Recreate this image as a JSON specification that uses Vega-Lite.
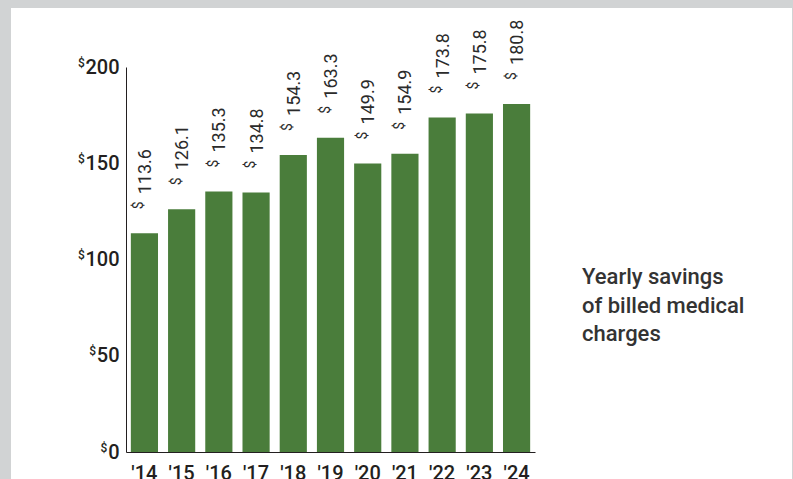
{
  "$schema": "https://vega.github.io/schema/vega-lite/v6.json",
  "width": 781,
  "height": 471,
  "autosize": {"type": "none"},
  "padding": {"left": 11, "top": 8, "right": 1, "bottom": 0},
  "background": "#d1d3d4",
  "config": {"view": {"fill": "white", "stroke": null}, "font": "Roboto"},
  "title": {
    "text": ["Yearly savings", "of billed medical", "charges"],
    "anchor": "start",
    "frame": "group",
    "orient": "top",
    "offset": 0,
    "dx": 571,
    "dy": 355,
    "baseline": "alphabetic",
    "lineHeight": 28.5,
    "fontSize": 22,
    "fontWeight": 500,
    "color": "#333333",
    "font": "Roboto"
  },
  "data": {
    "values": [
      {"year": "'14", "value": 113.6},
      {"year": "'15", "value": 126.1},
      {"year": "'16", "value": 135.3},
      {"year": "'17", "value": 134.8},
      {"year": "'18", "value": 154.3},
      {"year": "'19", "value": 163.3},
      {"year": "'20", "value": 149.9},
      {"year": "'21", "value": 154.9},
      {"year": "'22", "value": 173.8},
      {"year": "'23", "value": 175.8},
      {"year": "'24", "value": 180.8}
    ]
  },
  "encoding": {
    "x": {
      "field": "year",
      "type": "nominal",
      "sort": null,
      "scale": {"range": [115, 524], "paddingInner": 0.27, "paddingOuter": 0.13},
      "axis": {
        "orient": "bottom",
        "offset": -27,
        "domainColor": "#231f20",
        "domainWidth": 1,
        "ticks": false,
        "tickSize": 0,
        "labelAngle": 0,
        "labelPadding": 11,
        "labelFontSize": 20,
        "labelFontWeight": 500,
        "labelColor": "#231f20",
        "labelFont": "Roboto",
        "labelBaseline": "top",
        "title": null
      }
    }
  },
  "layer": [
    {
      "mark": {"type": "bar", "color": "#4a7d3b"},
      "encoding": {
        "y": {
          "field": "value",
          "type": "quantitative",
          "scale": {"domain": [0, 200], "range": [444, 59], "nice": false},
          "axis": {
            "orient": "left",
            "offset": -115,
            "values": [0, 50, 100, 150, 200],
            "domainColor": "#231f20",
            "domainWidth": 1,
            "ticks": false,
            "tickSize": 0,
            "grid": false,
            "labelPadding": 7,
            "labelFontSize": 20,
            "labelFontWeight": 500,
            "labelColor": "#231f20",
            "labelFont": "Roboto",
            "labelFlush": false,
            "labelOverlap": false,
            "title": null
          }
        }
      }
    },
    {
      "mark": {"type": "text", "angle": 270, "align": "left", "baseline": "middle", "dx": 39, "dy": 1.5, "fontSize": 18, "fontWeight": 400, "color": "#2b2b2b", "font": "Roboto"},
      "encoding": {
        "text": {"field": "value", "type": "quantitative", "format": ".1f"},
        "y": {
          "field": "value",
          "type": "quantitative",
          "scale": {"domain": [0, 200], "range": [444, 59], "nice": false},
          "axis": {
            "orient": "left",
            "offset": -115,
            "values": [0, 50, 100, 150, 200],
            "domain": false,
            "ticks": false,
            "tickSize": 0,
            "grid": false,
            "labelExpr": "'$'",
            "labelPadding": {"expr": "8 + 11.25*length(toString(datum.value))"},
            "labelOffset": -5,
            "labelFontSize": 12,
            "labelFontWeight": 500,
            "labelColor": "#231f20",
            "labelFont": "Roboto",
            "labelFlush": false,
            "labelOverlap": false,
            "title": null
          }
        }
      }
    },
    {
      "mark": {"type": "text", "angle": 270, "align": "left", "baseline": "middle", "dx": 24, "dy": -5, "fontSize": 14, "fontWeight": 400, "color": "#2b2b2b", "font": "Roboto"},
      "encoding": {
        "text": {"value": "$"},
        "y": {
          "field": "value",
          "type": "quantitative",
          "scale": {"domain": [0, 200], "range": [444, 59], "nice": false},
          "axis": null
        }
      }
    }
  ],
  "resolve": {"axis": {"y": "independent"}}
}
